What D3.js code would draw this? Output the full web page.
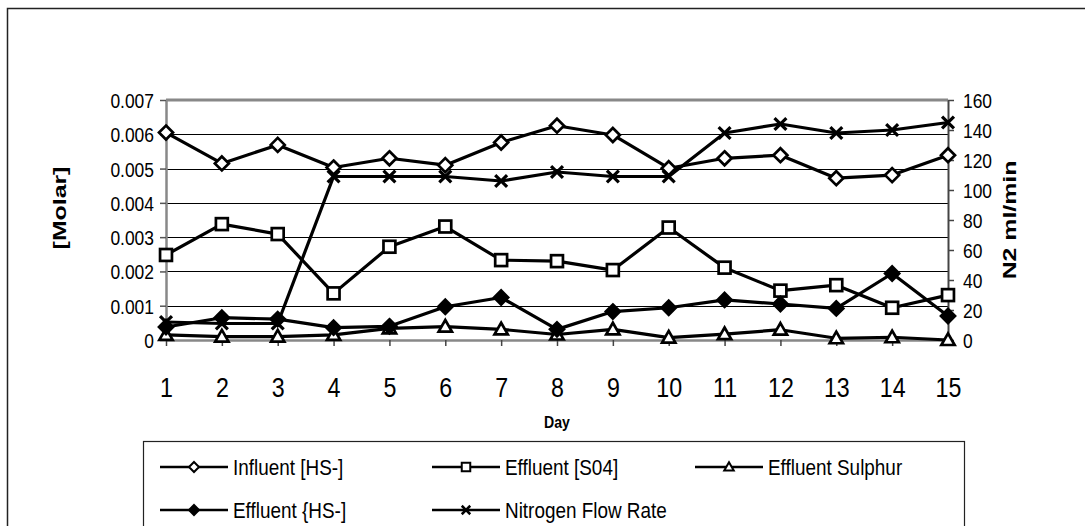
<!DOCTYPE html>
<html>
<head>
<meta charset="utf-8">
<script src="https://cdn.jsdelivr.net/npm/d3@7"></script>
<style>
  html, body { margin: 0; padding: 0; background: #fff; }
  svg { display: block; font-family: "Liberation Sans", Arial, sans-serif; }
</style>
</head>
<body>
<svg id="chart" width="1085" height="526"></svg>
<script>
// Day numbers along the x axis
const days = [1, 2, 3, 4, 5, 6, 7, 8, 9, 10, 11, 12, 13, 14, 15];

// Concentrations on the left axis [Molar]
const influentHS = [0.00605, 0.00515, 0.00569, 0.00503, 0.00530, 0.00510, 0.00576, 0.00625, 0.00598, 0.00501, 0.00530, 0.00539, 0.00472, 0.00481, 0.00539];
const effluentSO4 = [0.00248, 0.00338, 0.00309, 0.00136, 0.00272, 0.00331, 0.00233, 0.00230, 0.00204, 0.00328, 0.00211, 0.00144, 0.00160, 0.00094, 0.00131];
const effluentSulphur = [0.00015, 0.00010, 0.00010, 0.00015, 0.00034, 0.00039, 0.00031, 0.00016, 0.00031, 0.00007, 0.00017, 0.00030, 0.00005, 0.00008, 0.00000];
const effluentHS = [0.00038, 0.00065, 0.00061, 0.00036, 0.00040, 0.00097, 0.00124, 0.00031, 0.00083, 0.00094, 0.00117, 0.00105, 0.00092, 0.00194, 0.00070];

// Gas flow on the right axis [N2 ml/min]
const nitrogenFlow = [12, 11, 11, 109, 109, 109, 106, 112, 109, 109, 138, 144, 138, 140, 145];

// Tick labels
const leftTicks = [0, 0.001, 0.002, 0.003, 0.004, 0.005, 0.006, 0.007];
const rightTicks = [0, 20, 40, 60, 80, 100, 120, 140, 160];

const seriesNames = ["Influent [HS-]", "Effluent [S04]", "Effluent Sulphur", "Effluent {HS-]", "Nitrogen Flow Rate"];

const svg = d3.select("#chart");
const plot = { left: 166, right: 948, top: 100, bottom: 340 };

const x = d3.scaleLinear().domain([1, 15]).range([plot.left, plot.right]);
const yL = d3.scaleLinear().domain([0, 0.007]).range([plot.bottom, plot.top]);
const yR = d3.scaleLinear().domain([0, 160]).range([plot.bottom, plot.top]);

// Text in this chart is tall and narrow, so glyphs are squeezed horizontally
const SX = 0.83;

// Outer frame
svg.append("rect")
  .attr("x", 7.5).attr("y", 8.5)
  .attr("width", 1100).attr("height", 600)
  .attr("fill", "none").attr("stroke", "#222").attr("stroke-width", 1.5);

// Horizontal gridlines at the left-axis ticks
svg.append("g")
  .selectAll("line")
  .data(leftTicks.filter(v => v > 0 && v < 0.007))
  .join("line")
  .attr("x1", plot.left).attr("x2", plot.right)
  .attr("y1", d => Math.round(yL(d)) + 0.5).attr("y2", d => Math.round(yL(d)) + 0.5)
  .attr("stroke", "#000").attr("stroke-width", 1);

// Plot area top edge
svg.append("line")
  .attr("x1", plot.left).attr("x2", plot.right)
  .attr("y1", plot.top).attr("y2", plot.top)
  .attr("stroke", "#888").attr("stroke-width", 3);

// Left axis
const gL = svg.append("g").attr("transform", `translate(${plot.left},0)`)
  .call(d3.axisLeft(yL).tickValues(leftTicks).tickSizeInner(6).tickSizeOuter(0)
    .tickFormat(d => d === 0 ? "0" : d.toFixed(3)));
gL.select(".domain").attr("stroke", "#888").attr("stroke-width", 2.5);
gL.selectAll(".tick line").attr("stroke", "#555").attr("stroke-width", 1.5);
gL.selectAll(".tick text")
  .attr("x", null).attr("dy", "0.36em")
  .attr("transform", `translate(-12,0) scale(${SX},1)`)
  .attr("font-size", 21).attr("fill", "#000")
  .attr("font-family", "'Liberation Sans', Arial, sans-serif");

// Right axis
const gR = svg.append("g").attr("transform", `translate(${plot.right},0)`)
  .call(d3.axisRight(yR).tickValues(rightTicks).tickSizeInner(6).tickSizeOuter(0));
gR.select(".domain").attr("stroke", "#444").attr("stroke-width", 2);
gR.selectAll(".tick line").attr("stroke", "#444").attr("stroke-width", 1.5);
gR.selectAll(".tick text")
  .attr("x", null).attr("dy", "0.36em")
  .attr("transform", `translate(15,0) scale(${SX},1)`)
  .attr("font-size", 21).attr("fill", "#000")
  .attr("font-family", "'Liberation Sans', Arial, sans-serif");

// Bottom axis
const gB = svg.append("g").attr("transform", `translate(0,${plot.bottom})`)
  .call(d3.axisBottom(x).tickValues(days).tickSizeInner(6).tickSizeOuter(0).tickFormat(d3.format("d")));
gB.select(".domain").attr("stroke", "#888").attr("stroke-width", 2.5);
gB.selectAll(".tick line").attr("stroke", "#444").attr("stroke-width", 1.5);
gB.selectAll(".tick text")
  .attr("y", null).attr("dy", null)
  .attr("transform", `translate(0,57) scale(0.86,1)`)
  .attr("font-size", 27).attr("fill", "#000")
  .attr("font-family", "'Liberation Sans', Arial, sans-serif");

// Axis titles
svg.append("text")
  .attr("transform", `translate(557,428) scale(${SX},1)`)
  .attr("text-anchor", "middle").attr("font-size", 17).attr("font-weight", "bold")
  .text("Day");

svg.append("text")
  .attr("transform", "translate(60,208) rotate(-90) scale(1.38,1)")
  .attr("text-anchor", "middle").attr("dominant-baseline", "central")
  .attr("font-size", 18).attr("font-weight", "bold")
  .text("[Molar]");

svg.append("text")
  .attr("transform", "translate(1010,220) rotate(-90) scale(1.38,1)")
  .attr("text-anchor", "middle").attr("dominant-baseline", "central")
  .attr("font-size", 18).attr("font-weight", "bold")
  .text("N2 ml/min");

// Marker drawing
function marker(g, type, size, sw) {
  const h = size / 2;
  if (type === "diamondOpen" || type === "diamondFilled") {
    g.append("path")
      .attr("d", `M0,${-h}L${h},0L0,${h}L${-h},0Z`)
      .attr("fill", type === "diamondFilled" ? "#000" : "#fff")
      .attr("stroke", "#000").attr("stroke-width", sw);
  } else if (type === "square") {
    const s = h * 0.85;
    g.append("rect").attr("x", -s).attr("y", -s).attr("width", 2 * s).attr("height", 2 * s)
      .attr("fill", "#fff").attr("stroke", "#000").attr("stroke-width", sw);
  } else if (type === "triangle") {
    const s = h * 0.95;
    g.append("path")
      .attr("d", `M0,${-s}L${s},${s * 0.75}L${-s},${s * 0.75}Z`)
      .attr("fill", "#fff").attr("stroke", "#000").attr("stroke-width", sw);
  } else if (type === "cross") {
    const s = h * 0.85;
    g.append("path")
      .attr("d", `M${-s},${-s}L${s},${s}M${s},${-s}L${-s},${s}`)
      .attr("fill", "none").attr("stroke", "#000").attr("stroke-width", sw + 0.5);
  }
}

const series = [
  { name: seriesNames[0], values: influentHS, y: yL, type: "diamondOpen" },
  { name: seriesNames[1], values: effluentSO4, y: yL, type: "square" },
  { name: seriesNames[2], values: effluentSulphur, y: yL, type: "triangle" },
  { name: seriesNames[3], values: effluentHS, y: yL, type: "diamondFilled" },
  { name: seriesNames[4], values: nitrogenFlow, y: yR, type: "cross" }
];

const gS = svg.append("g");
series.forEach(s => {
  const line = d3.line().x((d, i) => x(days[i])).y(d => s.y(d));
  gS.append("path")
    .attr("d", line(s.values))
    .attr("fill", "none").attr("stroke", "#000").attr("stroke-width", 3.2)
    .attr("stroke-linejoin", "round");
  s.values.forEach((v, i) => {
    const m = gS.append("g").attr("transform", `translate(${x(days[i])},${s.y(v)})`);
    marker(m, s.type, 14, 2.7);
  });
});

// Legend
const legend = svg.append("g");
legend.append("rect")
  .attr("x", 143.5).attr("y", 441.5).attr("width", 821).attr("height", 120)
  .attr("fill", "#fff").attr("stroke", "#222").attr("stroke-width", 1.2);

const legendPos = [
  { lx: 160, ly: 467 }, { lx: 432, ly: 467 }, { lx: 695, ly: 467 },
  { lx: 160, ly: 510 }, { lx: 432, ly: 510 }
];
series.forEach((s, i) => {
  const p = legendPos[i];
  legend.append("line")
    .attr("x1", p.lx).attr("x2", p.lx + 68)
    .attr("y1", p.ly).attr("y2", p.ly)
    .attr("stroke", "#000").attr("stroke-width", 2.5);
  const m = legend.append("g").attr("transform", `translate(${p.lx + 34},${p.ly})`);
  marker(m, s.type, 10, 2);
  legend.append("text")
    .attr("transform", `translate(${p.lx + 73},${p.ly}) scale(0.86,1)`)
    .attr("dy", "0.36em")
    .attr("font-size", 22)
    .text(s.name);
});
</script>
</body>
</html>
